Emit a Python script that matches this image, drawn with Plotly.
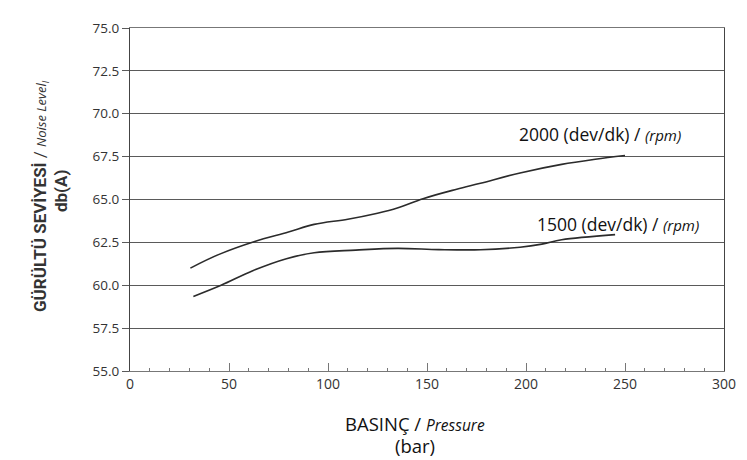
import plotly.graph_objects as go

# pressure (bar) vs noise level dB(A)
p_2000 = [30.5, 45, 63, 80, 93, 110, 125, 135, 148, 165, 177, 197, 218, 235, 250]
db_2000 = [61.0, 61.8, 62.55, 63.1, 63.55, 63.85, 64.2, 64.5, 65.05, 65.6, 65.95, 66.55, 67.05, 67.35, 67.57]

p_1500 = [32, 46, 62, 79, 93, 114, 135, 156, 177, 197, 208, 218, 245]
db_1500 = [59.35, 60.0, 60.85, 61.55, 61.9, 62.05, 62.15, 62.08, 62.07, 62.22, 62.4, 62.65, 62.95]

x_ticks = [0, 50, 100, 150, 200, 250, 300]
y_ticks = [55.0, 57.5, 60.0, 62.5, 65.0, 67.5, 70.0, 72.5, 75.0]

INK = "#333333"
GRID = "#5a5a5a"

fig = go.Figure()
for px_, db_ in ((p_2000, db_2000), (p_1500, db_1500)):
    fig.add_trace(go.Scatter(
        x=px_, y=db_, mode="lines", line_shape="spline",
        line=dict(color="#2b2b2b", width=1.6), showlegend=False,
        hoverinfo="skip",
    ))

fig.update_xaxes(
    range=[0, 300], tickvals=x_ticks, ticktext=[str(v) for v in x_ticks],
    showgrid=False, zeroline=False, showline=True, linecolor="#777777", linewidth=1.2,
    mirror=True, ticks="inside", ticklen=8, tickwidth=1, tickcolor="#777777",
    minor=dict(dtick=10, ticks="inside", ticklen=3, tickcolor="#777777", tickwidth=1),
    tickfont=dict(family="Open Sans", size=14, color=INK),
)
fig.update_yaxes(
    range=[55, 75], tickvals=y_ticks, ticktext=[f"{v:.1f}" for v in y_ticks],
    showgrid=True, gridcolor=GRID, gridwidth=1, zeroline=False,
    showline=True, linecolor="#444444", linewidth=1.2, mirror=True,
    ticks="outside", ticklen=7, tickcolor=GRID,
    tickfont=dict(family="Open Sans", size=13.5, color=INK),
)

ann = [
    dict(x=195.5, y=68.8, text="2000 (dev/dk) / <i><span style='font-size:15px'>(rpm)</span></i>"),
    dict(x=204.5, y=63.6, text="1500 (dev/dk) / <i><span style='font-size:15px'>(rpm)</span></i>"),
]
for a in ann:
    fig.add_annotation(xref="x", yref="y", showarrow=False, xanchor="left", yanchor="middle",
                       font=dict(family="Open Sans", size=17.5, color="#111111"), **a)

# axis titles
fig.add_annotation(xref="paper", yref="paper", x=0.48, y=-0.152, showarrow=False,
                   xanchor="center", yanchor="middle",
                   text="BASINÇ / <i><span style='font-size:15.5px'>Pressure</span></i>",
                   font=dict(family="Open Sans", size=18.5, color="#111111"))
fig.add_annotation(xref="paper", yref="paper", x=0.48, y=-0.218, showarrow=False,
                   xanchor="center", yanchor="middle", text="(bar)",
                   font=dict(family="Open Sans", size=18.5, color="#111111"))
fig.add_annotation(xref="paper", yref="paper", x=-0.15, y=0.51, showarrow=False,
                   xanchor="center", yanchor="middle", textangle=-90,
                   text="<b>GÜRÜLTÜ SEVİYESİ</b> / <i><span style='font-size:13px;font-family:Open Sans;font-weight:normal'>Noise Level<sub>I</sub></span></i>",
                   font=dict(family="Roboto, Liberation Sans, sans-serif", size=17, color="#333333"))
fig.add_annotation(xref="paper", yref="paper", x=-0.116, y=0.525, showarrow=False,
                   xanchor="center", yanchor="middle", textangle=-90,
                   text="<b>db(A)</b>",
                   font=dict(family="Roboto, Liberation Sans, sans-serif", size=17, color="#333333"))

fig.update_layout(
    width=747, height=460,
    margin=dict(l=122, r=31, t=11, b=97),
    paper_bgcolor="white", plot_bgcolor="white",
)

fig.write_html("out.html")
